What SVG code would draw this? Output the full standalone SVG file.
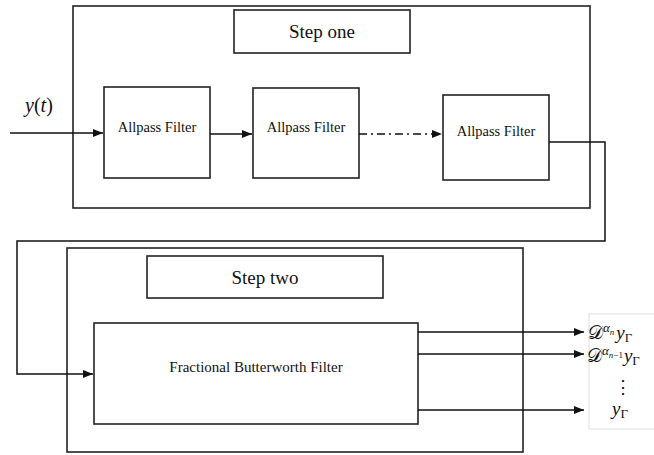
<svg xmlns="http://www.w3.org/2000/svg" width="654" height="455" viewBox="0 0 654 455">
<style>
.box{fill:#fff;stroke:#222;stroke-width:1.6}
.frame{fill:none;stroke:#222;stroke-width:1.6}
.wire{fill:none;stroke:#111;stroke-width:1.5}
.t{font-family:"Liberation Serif","DejaVu Serif",serif;fill:#111;text-anchor:middle}
.m{font-family:"Liberation Serif","DejaVu Serif",serif;fill:#111;font-style:italic}
</style>
<defs>
<marker id="ah" viewBox="0 0 10 8" refX="10" refY="4" markerWidth="10" markerHeight="8" markerUnits="userSpaceOnUse" orient="auto">
<path d="M0,0 L10,4 L0,8 Z" fill="#111"/>
</marker>
</defs>
<rect width="654" height="455" fill="#fff"/>
<g id="step-one">
<rect class="frame" x="73" y="6" width="517" height="202"/>
<rect class="box" x="234" y="10" width="176" height="43"/>
<text class="t" x="322" y="38" font-size="19">Step one</text>
</g>
<g id="step-two">
<rect class="frame" x="67" y="248" width="456" height="204"/>
<rect class="box" x="147" y="256" width="236" height="42"/>
<text class="t" x="265" y="284" font-size="19">Step two</text>
</g>
<g id="allpass1">
<rect class="box" x="104" y="87" width="106" height="91"/>
<text class="t" x="157" y="132" font-size="14.5">Allpass Filter</text>
</g>
<g id="allpass2">
<rect class="box" x="253" y="88" width="106" height="90"/>
<text class="t" x="306" y="132" font-size="14.5">Allpass Filter</text>
</g>
<g id="allpass3">
<rect class="box" x="443" y="95" width="106" height="85"/>
<text class="t" x="496" y="136" font-size="14.5">Allpass Filter</text>
</g>
<g id="butterworth">
<rect class="box" x="94" y="323" width="324" height="101"/>
<text class="t" x="256" y="372" font-size="15">Fractional Butterworth Filter</text>
</g>
<g id="input-label">
<text class="m" x="25" y="112" font-size="20">y<tspan font-style="normal">(</tspan>t<tspan font-style="normal">)</tspan></text>
</g>
<g id="outputs">
<rect x="589" y="314" width="70" height="115" fill="#fff" stroke="#ddd" stroke-width="1"/>
<text class="m" x="588" y="339" font-size="19"><tspan font-style="normal">𝒟</tspan><tspan font-size="13" dy="-7">α</tspan><tspan font-size="9" dy="3">n</tspan><tspan dy="4" dx="2">y</tspan><tspan font-style="normal" font-size="13" dy="3">Γ</tspan></text>
<text class="m" x="587" y="362" font-size="19"><tspan font-style="normal">𝒟</tspan><tspan font-size="13" dy="-7">α</tspan><tspan font-size="9" dy="3">n</tspan><tspan font-size="9" font-style="normal">−1</tspan><tspan dy="4" dx="1">y</tspan><tspan font-style="normal" font-size="13" dy="3">Γ</tspan></text>
<text class="t" x="623" y="393" font-size="18">⋮</text>
<text class="m" x="612" y="415" font-size="19">y<tspan font-style="normal" font-size="13" dy="3">Γ</tspan></text>
</g>
<g id="connectors">
<path class="wire" d="M10,133 H103" marker-end="url(#ah)"/>
<path class="wire" d="M210,134 H252" marker-end="url(#ah)"/>
<path class="wire" d="M359,134 H442" stroke-dasharray="8,4,2,4" marker-end="url(#ah)"/>
<path class="wire" d="M549,142 H605 V241 H17 V374 H93" marker-end="url(#ah)"/>
<path class="wire" d="M418,332 H584" marker-end="url(#ah)"/>
<path class="wire" d="M418,354 H584" marker-end="url(#ah)"/>
<path class="wire" d="M418,410 H584" marker-end="url(#ah)"/>
</g>
</svg>
